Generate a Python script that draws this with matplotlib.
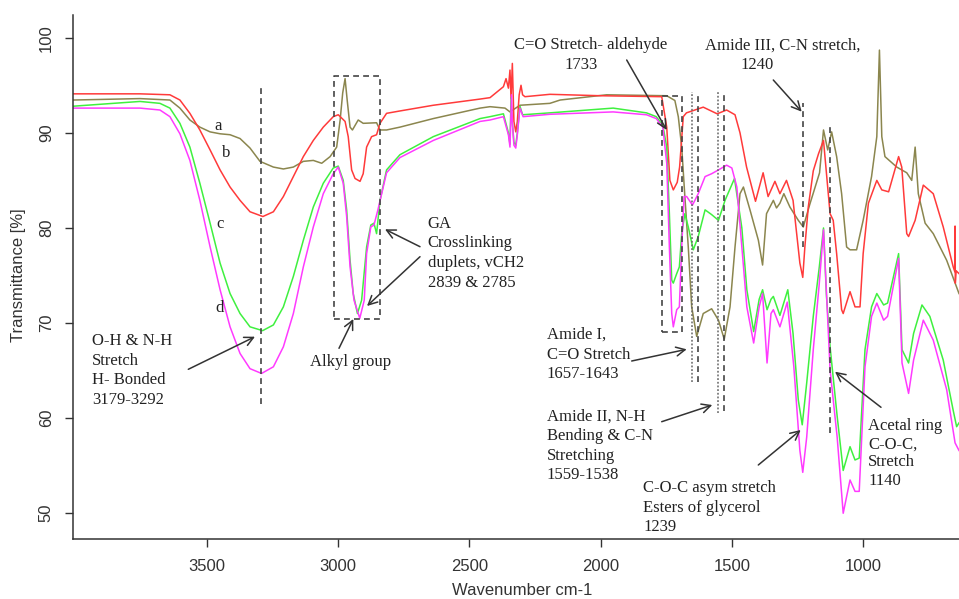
import matplotlib
matplotlib.use("Agg")
import matplotlib.pyplot as plt

# ---------------- data (wavenumber cm-1, transmittance %) ----------------
curve_a = [(4008, 93.45), (3754, 93.6), (3640, 93.45), (3602, 92.6), (3564, 91.35), (3526, 90.6), (3487, 90.1),
           (3449, 89.9), (3411, 89.8), (3373, 89.4), (3335, 88.4), (3297, 87.0), (3246, 86.4), (3208, 86.2),
           (3170, 86.4), (3132, 87.0), (3094, 87.1), (3062, 86.8), (3030, 87.5), (3005, 88.5),
           (2992, 91.3), (2982, 94.2), (2973, 95.7), (2965, 93.45), (2954, 90.6), (2945, 90.3), (2923, 91.35),
           (2904, 91.0), (2853, 91.06), (2840, 90.3), (2815, 90.3), (2764, 90.6), (2637, 91.5), (2459, 92.6),
           (2421, 92.75), (2364, 92.6), (2345, 92.2), (2307, 92.9), (2193, 93.1), (2154, 93.45), (1977, 94.0),
           (1748, 93.9), (1717, 93.4), (1704, 91.7), (1691, 88.5), (1679, 83.3), (1666, 78.0), (1653, 71.7),
           (1634, 68.6), (1609, 71.0), (1577, 71.5), (1551, 70.3), (1529, 68.3), (1507, 71.7), (1488, 78.0),
           (1469, 83.6), (1456, 84.3), (1431, 81.9), (1399, 78.7), (1383, 76.1), (1368, 81.5), (1355, 82.2),
           (1342, 82.9), (1330, 82.1), (1317, 82.6), (1302, 83.6), (1279, 82.2), (1247, 80.8), (1228, 80.1),
           (1203, 82.5), (1166, 85.8), (1151, 90.3), (1135, 88.2), (1120, 90.1), (1101, 87.5), (1082, 83.6),
           (1063, 78.0), (1050, 77.7), (1025, 77.7), (1000, 80.8), (968, 85.4), (948, 89.6), (938, 98.7),
           (929, 89.6), (917, 87.5), (872, 86.4), (834, 85.8), (815, 85.0), (802, 88.5), (790, 83.6),
           (764, 80.5), (733, 79.4), (682, 76.6), (635, 73.1)]

curve_b = [(4008, 94.1), (3754, 94.1), (3640, 94.0), (3602, 93.45), (3564, 92.05), (3526, 90.3), (3487, 88.2),
           (3449, 86.1), (3411, 84.3), (3373, 82.9), (3335, 81.7), (3286, 81.2), (3246, 81.7), (3208, 83.3),
           (3170, 85.4), (3132, 87.5), (3094, 89.2), (3056, 90.6), (3018, 91.7),
           (2999, 91.9), (2973, 91.2), (2961, 89.6), (2948, 86.1), (2935, 85.2), (2916, 84.9),
           (2904, 85.7), (2891, 88.5), (2872, 89.6), (2853, 89.8), (2840, 91.0), (2815, 92.05), (2764, 92.3),
           (2637, 92.9), (2459, 93.55), (2421, 93.7), (2370, 94.85), (2360, 95.7), (2351, 94.7), (2345, 96.6),
           (2341, 93.6), (2336, 97.3), (2330, 91.2), (2323, 90.1), (2317, 91.2), (2310, 94.0), (2303, 95.0),
           (2297, 94.0), (2288, 93.8), (2193, 94.05), (2000, 93.9), (1767, 93.8), (1748, 90.6), (1736, 85.0),
           (1723, 84.0), (1708, 84.8), (1699, 86.4), (1685, 91.7), (1673, 92.1), (1609, 92.7), (1556, 92.0),
           (1520, 92.4), (1488, 91.9), (1469, 90.0), (1444, 86.4), (1410, 82.8), (1381, 85.8), (1362, 83.3),
           (1336, 84.9), (1317, 83.6), (1292, 85.0), (1267, 82.9), (1241, 76.3), (1230, 74.8), (1222, 78.0),
           (1209, 82.2), (1190, 86.0), (1170, 87.8), (1151, 89.2), (1126, 81.5), (1114, 80.8), (1101, 77.3),
           (1082, 71.4), (1076, 71.0), (1050, 73.3), (1031, 71.7), (1012, 71.7), (1000, 77.3), (980, 82.6),
           (948, 85.0), (929, 84.0), (903, 83.8), (865, 87.5), (853, 86.4), (834, 79.4), (827, 79.1),
           (802, 80.8), (771, 84.5), (733, 83.6), (695, 80.1), (657, 75.9), (651, 75.4), (650, 80.2),
           (649, 74.2), (646, 75.5), (635, 75.2)]

curve_c = [(4008, 92.8), (3754, 93.3), (3678, 93.1), (3640, 92.6), (3602, 91.0), (3564, 88.5), (3526, 84.7),
           (3487, 80.5), (3449, 76.3), (3411, 73.1), (3373, 71.0), (3335, 69.6), (3287, 69.2), (3246, 69.8),
           (3208, 71.7), (3170, 74.9), (3132, 78.7), (3094, 82.2), (3056, 84.7), (3018, 86.3),
           (2999, 86.5), (2980, 85.0), (2967, 81.9), (2954, 76.6), (2942, 73.1),
           (2926, 71.0), (2910, 72.4), (2891, 78.0), (2875, 80.3), (2863, 80.5), (2853, 79.4), (2840, 82.9),
           (2815, 86.1), (2764, 87.7), (2637, 89.6), (2459, 91.5), (2421, 91.7), (2370, 92.0), (2351, 90.0),
           (2345, 88.8), (2341, 93.7), (2337, 91.4), (2330, 89.0), (2323, 88.7), (2317, 90.0), (2307, 92.8),
           (2297, 91.9), (2193, 92.1), (1952, 92.6), (1825, 92.1), (1788, 91.7), (1763, 90.8), (1748, 88.5),
           (1738, 81.5), (1729, 74.5), (1723, 74.2), (1710, 75.2), (1700, 75.9), (1691, 79.4), (1679, 81.5),
           (1666, 80.1), (1647, 77.7), (1628, 79.1), (1602, 81.9), (1577, 81.4), (1551, 80.8), (1526, 82.9),
           (1490, 85.2), (1462, 80.0), (1443, 73.5), (1417, 69.1), (1396, 72.5), (1383, 73.5), (1366, 71.4),
           (1351, 72.5), (1342, 72.8), (1317, 70.8), (1287, 73.5), (1267, 68.9), (1247, 61.9), (1232, 59.3),
           (1215, 63.7), (1190, 70.7), (1167, 75.9), (1151, 80.0), (1140, 73.0), (1126, 67.5), (1099, 60.2),
           (1076, 54.5), (1050, 57.0), (1031, 55.6), (1015, 55.8), (993, 67.2), (968, 71.7), (948, 73.1),
           (922, 71.9), (907, 72.1), (865, 77.3), (852, 67.2), (827, 65.8), (808, 68.9), (776, 71.9),
           (746, 70.7), (695, 66.1), (657, 60.8), (644, 59.1), (635, 59.5)]

curve_d = [(4008, 92.6), (3754, 92.6), (3678, 92.4), (3640, 91.7), (3602, 89.9), (3564, 87.1), (3526, 82.9),
           (3487, 78.0), (3449, 73.5), (3411, 69.6), (3373, 66.8), (3335, 65.2), (3291, 64.7), (3246, 65.4),
           (3208, 67.5), (3170, 71.0), (3132, 75.9), (3094, 80.1), (3056, 83.6), (3018, 85.7),
           (2999, 86.4), (2980, 84.7), (2967, 81.2), (2954, 75.9), (2939, 72.4),
           (2917, 70.5), (2900, 72.4), (2891, 77.3), (2875, 80.1), (2863, 80.3), (2848, 81.9), (2815, 85.8),
           (2764, 87.4), (2637, 89.2), (2459, 91.2), (2421, 91.35), (2370, 91.7), (2351, 89.8), (2345, 88.5),
           (2339, 94.0), (2336, 91.2), (2330, 88.7), (2323, 88.4), (2317, 89.8), (2307, 92.6), (2295, 91.7),
           (2193, 91.95), (1952, 92.2), (1825, 91.9), (1788, 91.5), (1763, 90.6), (1748, 86.8), (1738, 78.0),
           (1729, 71.0), (1723, 69.6), (1710, 71.4), (1700, 71.7), (1691, 78.0), (1682, 83.3), (1672, 83.3),
           (1650, 82.4), (1628, 83.6), (1602, 85.4), (1577, 85.7), (1551, 86.1), (1520, 86.6), (1500, 86.3),
           (1481, 84.3), (1462, 78.0), (1443, 71.7), (1417, 67.9), (1396, 71.7), (1383, 73.1), (1366, 65.8),
           (1351, 71.0), (1342, 71.4), (1317, 69.6), (1289, 72.2), (1264, 65.4), (1241, 56.6), (1230, 54.3),
           (1215, 58.0), (1190, 67.2), (1167, 74.2), (1151, 79.8), (1126, 65.1), (1099, 58.0), (1076, 50.0),
           (1050, 53.5), (1031, 52.3), (1015, 52.3), (993, 65.4), (968, 70.7), (948, 72.1), (922, 70.3),
           (907, 70.7), (865, 76.8), (852, 65.8), (827, 62.6), (808, 66.1), (771, 70.3), (733, 68.2),
           (682, 63.0), (650, 57.4), (635, 56.6)]

series_names = ["a", "b", "c", "d"]
series_colors = ["#8B864E", "#ff3a3a", "#3ff03f", "#ff3aff"]
x_ticks = [1000, 1500, 2000, 2500, 3000, 3500]
y_ticks = [50, 60, 70, 80, 90, 100]

# marker lines (wavenumber, T_low, T_high)
dashed_vlines = [(3293, 61.5, 94.9), (1630, 63.8, 94.3), (1530, 60.7, 94.3), (1229, 78.0, 93.1), (1125, 58.4, 90.8)]
dotted_vlines = [(1652, 63.8, 94.3), (1553, 60.5, 94.3)]
boxes = [(3015, 2840, 70.4, 96.0), (1767, 1689, 69.1, 93.9)]

# ---------------- figure ----------------
W, H = 959, 599
fig = plt.figure(figsize=(W / 100, H / 100), dpi=100)
ax = fig.add_axes([73.3 / W, 1 - 539.3 / H, (W - 73.3) / W, (539.3 - 15) / H])

for data, col in zip([curve_a, curve_b, curve_c, curve_d], series_colors):
    xs = [p[0] for p in data]
    ys = [p[1] for p in data]
    ax.plot(xs, ys, color=col, lw=1.1, solid_joinstyle="round")

ax.set_xlim(4008, 635)
ax.set_ylim(47.26, 102.39)

dash_col = "#444444"
for x, y0, y1 in dashed_vlines:
    ax.plot([x, x], [y0, y1], color=dash_col, lw=1.2, ls=(0, (3.5, 2.5)))
for x, y0, y1 in dotted_vlines:
    ax.plot([x, x], [y0, y1], color="#666666", lw=1.1, ls=(0, (1.2, 1.2)))
for x0, x1, y0, y1 in boxes:
    ax.plot([x0, x1, x1, x0, x0], [y0, y0, y1, y1, y0], color=dash_col, lw=1.2, ls=(0, (3.5, 2.5)))

# axes styling (R-like)
for s in ["top", "right"]:
    ax.spines[s].set_visible(False)
for s in ["left", "bottom"]:
    ax.spines[s].set_color("#333333")
    ax.spines[s].set_linewidth(1.1)
ax.set_xticks(x_ticks)
ax.set_yticks(y_ticks)
ax.tick_params(axis="both", direction="out", length=6, width=1.0, color="#333333",
               labelsize=12, labelcolor="#333333", pad=8)
ax.tick_params(axis="y", labelrotation=90)
for lab in ax.get_yticklabels():
    lab.set_va("center")
for lab in ax.get_xticklabels() + ax.get_yticklabels():
    lab.set_fontfamily("Liberation Sans")
ax.patch.set_alpha(0)

fig.text(522 / W, 1 - 595 / H, "Wavenumber cm-1", ha="center", va="baseline",
         fontsize=12, color="#333333", family="Liberation Sans")
fig.text(19 / W, 1 - 275 / H, "Transmittance [%]", ha="center", va="center", rotation=90,
         fontsize=12, color="#333333", family="Liberation Sans")


def P(x, y):
    return (x / W, 1 - y / H)


serif = dict(family="Liberation Serif", fontsize=12, color="#222222")

# series labels
for name, (px, py) in zip(series_names, [(218.3, 129.5), (226, 157), (220, 227.5), (219.3, 312)]):
    fig.text(*P(px, py), name, ha="center", va="baseline", **serif)

# annotation text blocks: (lines, x, baselines, ha)
blocks = [
    (["C=O Stretch- aldehyde"], 590.8, [49], "center"),
    (["1733"], 580.8, [69], "center"),
    (["Amide III, C-N stretch,"], 782.8, [49.5], "center"),
    (["1240"], 757.5, [69], "center"),
    (["GA", "Crosslinking", "duplets, vCH2", "2839 & 2785"], 427.7, [227.7, 246.7, 266.7, 286.7], "left"),
    (["Alkyl group"], 351, [366], "center"),
    (["O-H & N-H", "Stretch", "H- Bonded", "3179-3292"], 91.7, [345, 365, 384.3, 404.3], "left"),
    (["Amide I,", "C=O Stretch", "1657-1643"], 546.7, [339, 359, 378.3], "left"),
    (["Amide II, N-H", "Bending & C-N", "Stretching", "1559-1538"], 546.7, [420.7, 440, 460, 479.3], "left"),
    (["C-O-C asym stretch", "Esters of glycerol", "1239"], 643.3, [491.7, 512, 531], "left"),
    (["Acetal ring", "C-O-C,", "Stretch", "1140"], 868.3, [430, 448.3, 466, 485], "left"),
]
for lines, x, bls, ha in blocks:
    for line, b in zip(lines, bls):
        fig.text(*P(x, b), line, ha=ha, va="baseline", **serif)

arrows = [
    ((626.7, 60), (666.7, 130)),
    ((773.3, 80), (801.7, 111.7)),
    ((420, 246.7), (385, 229.3)),
    ((420, 256.7), (367, 306)),
    ((339, 348.3), (353.3, 319)),
    ((188.3, 369.3), (255, 336.7)),
    ((631.7, 361), (686.7, 349.3)),
    ((661.7, 421.7), (712.3, 405)),
    ((758.3, 465), (800.7, 430)),
    ((881, 407.3), (835, 371.7)),
]
for start, end in arrows:
    ax.annotate("", xy=P(*end), xytext=P(*start), xycoords="figure fraction",
                textcoords="figure fraction",
                arrowprops=dict(arrowstyle="->", color="#333333", lw=1.1,
                                mutation_scale=16, shrinkA=0, shrinkB=0))

fig.savefig("out.png", dpi=100)
